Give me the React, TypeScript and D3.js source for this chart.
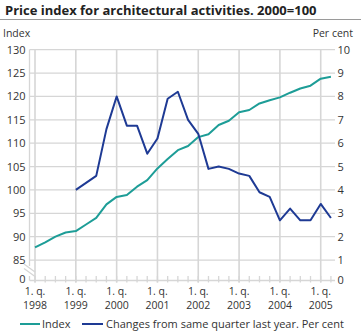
import React from "react";
import * as d3 from "d3";

const years = ["1998", "1999", "2000", "2001", "2002", "2003", "2004", "2005"];
const quarterCount = 30; // 1998Q1 .. 2005Q2

// Index 2000=100, 1998Q1..2005Q2
const indexValues = [
  87.7, 88.8, 90.0, 90.9, 91.2, 92.6, 94.0, 96.9,
  98.5, 98.9, 100.7, 102.1, 104.6, 106.6, 108.5, 109.4,
  111.3, 111.9, 113.9, 114.8, 116.6, 117.1, 118.5, 119.2,
  119.8, 120.8, 121.7, 122.3, 123.8, 124.2,
];

// Per cent change from same quarter last year, 1999Q1..2005Q2
const changeValues = [
  4.0, 4.3, 4.6, 6.6, 8.0, 6.75, 6.75, 5.55,
  6.2, 7.9, 8.2, 7.0, 6.4, 4.9, 5.0, 4.9,
  4.7, 4.6, 3.9, 3.7, 2.7, 3.2, 2.7, 2.7,
  3.4, 2.8,
];
const changeStart = 4; // 1999Q1

const leftTicks = [130, 125, 120, 115, 110, 105, 100, 95, 90, 85];
const rightTicks = [10, 9, 8, 7, 6, 5, 4, 3, 2, 1];

const TEAL = "#1d9d97";
const BLUE = "#1e3a94";
const GRID = "#d6d6d6";
const TEXT = "#333333";
const FONT = "'Open Sans', 'Noto Sans', sans-serif";

export default function App() {
  const W = 361;
  const H = 336;
  const x = d3.scaleLinear().domain([-0.54, 29.4]).range([29.5, 335]);
  const yR = d3.scaleLinear().domain([0, 10]).range([283.4, 49.7]);
  const yL = (v: number) => yR((v - 80) / 5);
  const axisY = 280.5;

  const indexLine = d3
    .line<number>()
    .x((_, i) => x(i))
    .y((d) => yL(d));
  const changeLine = d3
    .line<number>()
    .x((_, i) => x(i + changeStart))
    .y((d) => yR(d));

  const quarters = d3.range(quarterCount);

  return (
    <svg
      width={W}
      height={H}
      style={{ position: "absolute", left: 0, top: 0, background: "#fff" }}
      fontFamily={FONT}
    >
      <text x={5} y={15} fontSize={13} fontWeight="bold" fill="#222">
        Price index for architectural activities. 2000=100
      </text>
      <line x1={0} x2={W} y1={19.5} y2={19.5} stroke="#9a9a9a" strokeWidth={1} />

      <text x={3} y={37} fontSize={10.5} fill={TEXT}>Index</text>
      <text x={353} y={37} fontSize={10.5} fill={TEXT} textAnchor="end">Per cent</text>

      {/* horizontal grid */}
      {rightTicks.map((t) => (
        <line key={"h" + t} x1={29.5} x2={335} y1={yR(t)} y2={yR(t)} stroke={GRID} strokeWidth={1.3} />
      ))}
      {/* vertical grid at first quarters */}
      {years.map((yr, i) => (
        <line key={"v" + yr} x1={x(i * 4)} x2={x(i * 4)} y1={yR(10)} y2={axisY + 2} stroke={GRID} strokeWidth={1.6} />
      ))}
      {/* left axis with break */}
      <line x1={29.5} x2={29.5} y1={yR(10)} y2={266} stroke={GRID} strokeWidth={1.3} />
      <line x1={29.5} x2={29.5} y1={276} y2={axisY} stroke={GRID} strokeWidth={1.3} />
      <line x1={24} x2={35} y1={264} y2={272} stroke={GRID} strokeWidth={1.2} />
      <line x1={24} x2={35} y1={268.5} y2={276.5} stroke={GRID} strokeWidth={1.2} />
      {/* bottom axis */}
      <line x1={29.5} x2={335} y1={axisY} y2={axisY} stroke={GRID} strokeWidth={1.3} />
      {quarters.map((q) => (
        <line key={"q" + q} x1={x(q)} x2={x(q)} y1={axisY - 4.5} y2={axisY + 2} stroke={GRID} strokeWidth={1.3} />
      ))}

      {/* left tick labels */}
      {leftTicks.map((t) => (
        <text key={"l" + t} x={25.5} y={yL(t)} dy="0.36em" fontSize={11} fill={TEXT} textAnchor="end">
          {t}
        </text>
      ))}
      <text x={25.5} y={axisY - 1} dy="0.36em" fontSize={11} fill={TEXT} textAnchor="end">0</text>

      {/* right tick labels */}
      {rightTicks.map((t) => (
        <text key={"r" + t} x={337.5} y={yR(t)} dy="0.36em" fontSize={11} fill={TEXT}>
          {t}
        </text>
      ))}
      <text x={337.5} y={axisY} dy="0.36em" fontSize={11} fill={TEXT}>0</text>

      {/* x labels */}
      {years.map((yr, i) => (
        <text key={"x" + yr} x={x(i * 4)} y={295} fontSize={10.5} fill={TEXT} textAnchor="middle">
          <tspan x={x(i * 4)}>1. q.</tspan>
          <tspan x={x(i * 4)} dy={14}>{yr}</tspan>
        </text>
      ))}

      {/* series */}
      <path d={indexLine(indexValues) || ""} fill="none" stroke={TEAL} strokeWidth={2} strokeLinejoin="round" />
      <path d={changeLine(changeValues) || ""} fill="none" stroke={BLUE} strokeWidth={2} strokeLinejoin="round" />

      {/* legend */}
      <line x1={20} x2={40} y1={324} y2={324} stroke={TEAL} strokeWidth={2} />
      <text x={42} y={324} dy="0.36em" fontSize={11} fill={TEXT}>Index</text>
      <line x1={82} x2={103} y1={324} y2={324} stroke={BLUE} strokeWidth={2} />
      <text x={106} y={324} dy="0.36em" fontSize={11} fill={TEXT}>Changes from same quarter last year. Per cent</text>
    </svg>
  );
}
